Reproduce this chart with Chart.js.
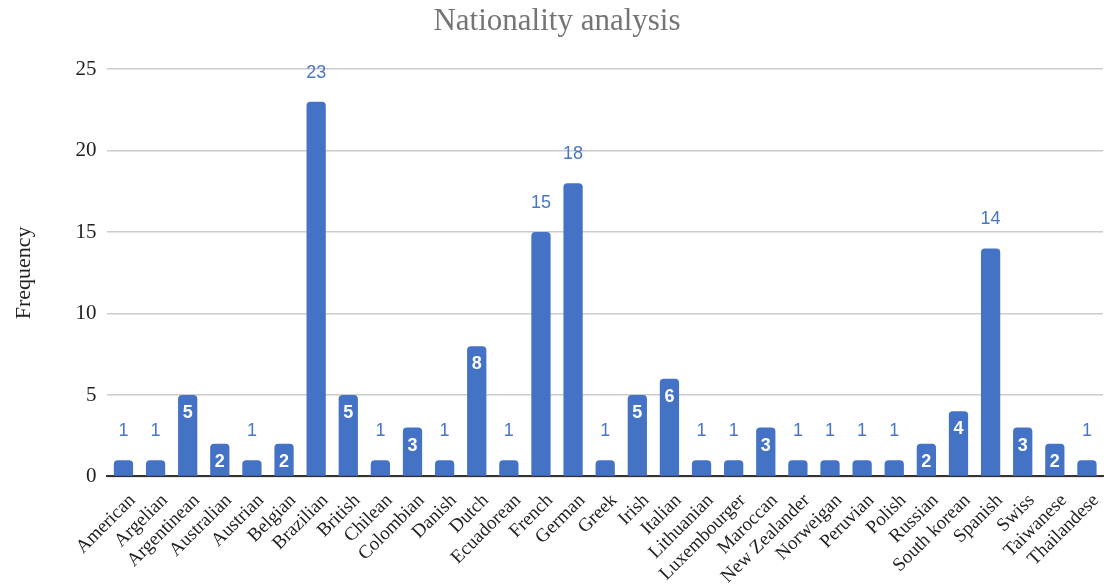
<!DOCTYPE html>
<html>
<head>
<meta charset="utf-8">
<script src="https://cdn.jsdelivr.net/npm/chart.js@4.4.1/dist/chart.umd.min.js"></script>
<style>
  html, body { margin: 0; padding: 0; background: #fff; }
  #wrap { width: 1104px; height: 585px; }
</style>
</head>
<body>
<div id="wrap"><canvas id="chart"></canvas></div>
<script>
const nationalities = [
  "American", "Argelian", "Argentinean", "Australian", "Austrian", "Belgian",
  "Brazilian", "British", "Chilean", "Colombian", "Danish", "Dutch",
  "Ecuadorean", "French", "German", "Greek", "Irish", "Italian",
  "Lithuanian", "Luxembourger", "Maroccan", "New Zealander", "Norweigan",
  "Peruvian", "Polish", "Russian", "South korean", "Spanish", "Swiss",
  "Taiwanese", "Thailandese"
];
const frequency = [
  1, 1, 5, 2, 1, 2,
  23, 5, 1, 3, 1, 8,
  1, 15, 18, 1, 5, 6,
  1, 1, 3, 1, 1,
  1, 1, 2, 4, 14, 3,
  2, 1
];
const yTicks = [0, 5, 10, 15, 20, 25];

const barColor = "#4472c4";
const serif = "'Liberation Serif', 'DejaVu Serif', serif";
const sans = "'Liberation Sans', Arial, sans-serif";

// value labels: white inside medium bars, blue above small and tall ones
const valueLabels = {
  id: "valueLabels",
  afterDatasetsDraw(chart) {
    const ctx = chart.ctx;
    const meta = chart.getDatasetMeta(0);
    ctx.save();
    ctx.textAlign = "center";
    ctx.textBaseline = "middle";
    meta.data.forEach((bar, i) => {
      const v = frequency[i];
      const inside = v >= 2 && v <= 10;
      if (inside) {
        ctx.fillStyle = "#ffffff";
        ctx.font = "bold 18px " + sans;
        ctx.fillText(String(v), bar.x, bar.y + 18);
      } else {
        ctx.fillStyle = "#4a76c8";
        ctx.font = "18px " + sans;
        ctx.fillText(String(v), bar.x, bar.y - 29);
      }
    });
    ctx.restore();
  }
};

new Chart(document.getElementById("chart"), {
  type: "bar",
  data: {
    labels: nationalities,
    datasets: [{
      label: "Frequency",
      data: frequency,
      backgroundColor: barColor,
      borderRadius: { topLeft: 4, topRight: 4 },
      borderSkipped: "bottom",
      categoryPercentage: 1.0,
      barPercentage: 0.6
    }]
  },
  options: {
    responsive: true,
    maintainAspectRatio: false,
    animation: false,
    layout: { padding: { left: 11, right: 1, top: 0, bottom: 0 } },
    plugins: {
      legend: { display: false },
      tooltip: { enabled: false },
      title: {
        display: true,
        text: "Nationality analysis",
        color: "#757575",
        font: { family: serif, size: 31, weight: "normal" },
        padding: { top: 3, bottom: 29 }
      }
    },
    scales: {
      x: {
        grid: { display: false },
        border: { display: true, color: "#333333", width: 2 },
        afterFit(axis) {
          axis.height -= 8;
          axis.paddingRight = 0;
        },
        ticks: {
          color: "#222222",
          font: { family: serif, size: 19 },
          minRotation: 45,
          maxRotation: 45,
          autoSkip: false,
          labelOffset: 9,
          padding: 5
        }
      },
      y: {
        min: 0,
        max: 25,
        afterBuildTicks(axis) {
          axis.ticks = yTicks.map(v => ({ value: v }));
        },
        grid: { color: "#cccccc", lineWidth: 1.5, drawTicks: false },
        border: { display: false },
        title: {
          display: true,
          text: "Frequency",
          color: "#222222",
          font: { family: serif, size: 22 },
          padding: { top: 0, bottom: 27 }
        },
        ticks: {
          color: "#222222",
          font: { family: serif, size: 21 },
          padding: 11
        }
      }
    }
  },
  plugins: [valueLabels]
});
</script>
</body>
</html>
